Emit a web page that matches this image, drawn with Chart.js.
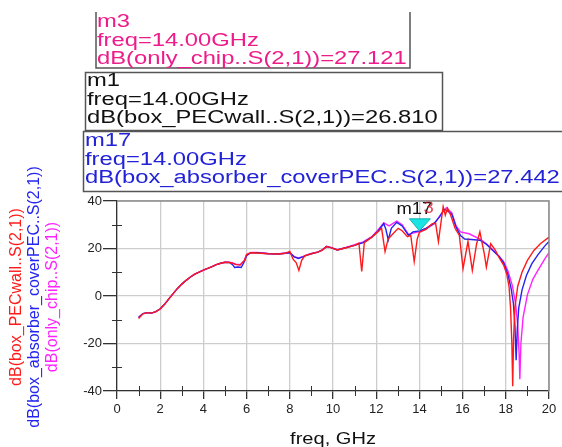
<!DOCTYPE html>
<html>
<head>
<meta charset="utf-8">
<script src="https://cdn.jsdelivr.net/npm/chart.js@4/dist/chart.umd.min.js"></script>
<style>
html,body{margin:0;padding:0;background:#fff;}
canvas{display:block;}
</style>
</head>
<body>
<canvas id="c" width="562" height="447"></canvas>
<script>
// ---- data ----
const freqRed = [1.0,1.2,1.4,1.6,1.8,2.0,2.2,2.4,2.6,2.8,3.0,3.2,3.4,3.6,3.8,4.0,4.2,4.4,4.6,4.8,5.0,5.2,5.35,5.5,5.7,5.9,6.0,6.2,6.5,7.0,7.5,7.8,8.0,8.15,8.3,8.42,8.55,8.7,9.0,9.3,9.5,9.7,9.9,10.2,10.6,11.0,11.2,11.33,11.45,11.8,12.1,12.25,12.41,12.55,12.7,13.02,13.2,13.45,13.6,13.76,13.9,14.0,14.3,14.6,14.75,14.88,15.0,15.1,15.2,15.3,15.45,15.65,15.85,16.02,16.25,16.45,16.65,16.8,17.0,17.1,17.3,17.5,17.7,17.9,18.05,18.15,18.22,18.28,18.32,18.36,18.42,18.55,18.75,19.0,19.3,19.6,20.0];
const dbRed   = [-9.5,-7.5,-7.0,-7.2,-6.6,-5.5,-3.5,-1.2,1.0,3.2,5.0,6.6,8.0,9.2,10.1,10.9,11.6,12.4,13.2,13.8,14.2,14.1,13.8,13.2,13.0,15.0,17.5,18.2,18.1,17.8,17.7,18.0,18.8,15.5,14.0,10.8,15.0,17.0,17.8,18.5,19.3,20.8,20.4,19.4,20.3,21.3,22.3,10.3,22.5,24.8,27.2,28.5,18.7,24.0,25.5,28.5,27.5,25.0,25.5,14.5,24.0,26.81,28.0,30.5,30.6,22.9,31.0,37.6,34.0,37.0,34.0,28.5,25.5,11.5,23.0,10.8,22.0,27.0,18.0,12.2,22.0,19.5,16.0,13.0,9.0,4.0,-5.0,-20.0,-38.0,-18.0,-5.0,4.0,10.0,15.0,19.2,22.0,24.8];

const freqBlue = [1.0,1.2,1.4,1.6,1.8,2.0,2.2,2.4,2.6,2.8,3.0,3.2,3.4,3.6,3.8,4.0,4.2,4.4,4.6,4.8,5.0,5.2,5.35,5.45,5.6,5.75,5.9,6.0,6.2,6.5,7.0,7.5,7.8,8.0,8.2,8.4,8.6,8.8,9.0,9.3,9.5,9.7,9.9,10.2,10.6,11.0,11.4,11.8,12.1,12.35,12.45,12.56,12.7,12.95,13.2,13.5,13.7,14.0,14.3,14.7,14.95,15.15,15.3,15.5,15.7,15.9,16.1,16.4,16.8,17.1,17.4,17.7,17.9,18.1,18.25,18.35,18.42,18.48,18.53,18.6,18.75,18.95,19.2,19.5,19.8,20.0];
const dbBlue   = [-9.0,-7.4,-7.0,-7.2,-6.6,-5.4,-3.5,-1.2,1.0,3.2,5.0,6.6,8.0,9.2,10.1,10.9,11.6,12.4,13.2,13.8,14.2,14.1,13.2,12.0,12.2,12.0,14.5,17.0,18.2,18.2,17.8,17.7,18.0,18.2,16.5,15.8,16.5,17.2,17.8,18.5,19.3,20.8,20.4,19.4,20.3,21.3,22.5,24.8,27.5,30.5,28.0,23.6,28.5,31.0,29.5,25.5,27.0,27.442,28.5,30.8,33.5,36.5,35.8,34.5,29.0,25.5,24.0,23.8,23.5,21.8,19.2,16.5,14.0,9.0,3.0,-3.0,-12.0,-27.0,-14.0,-5.0,2.5,8.5,13.5,17.5,21.0,23.0];

const freqPink = [1.0,1.2,1.4,1.6,1.8,2.0,2.2,2.4,2.6,2.8,3.0,3.2,3.4,3.6,3.8,4.0,4.2,4.4,4.6,4.8,5.0,5.2,5.35,5.5,5.7,5.9,6.0,6.2,6.5,7.0,7.5,7.8,8.0,8.2,8.4,8.6,8.8,9.0,9.3,9.5,9.7,9.9,10.2,10.6,11.0,11.4,11.8,12.1,12.35,12.6,12.95,13.2,13.5,13.7,14.0,14.3,14.7,15.0,15.25,15.5,15.7,15.9,16.3,16.8,17.1,17.4,17.7,17.9,18.1,18.3,18.45,18.55,18.62,18.65,18.7,18.8,19.0,19.25,19.5,19.8,20.0];
const dbPink   = [-9.2,-7.4,-7.0,-7.2,-6.6,-5.5,-3.5,-1.2,1.0,3.2,5.0,6.6,8.0,9.2,10.1,10.9,11.6,12.4,13.2,13.8,14.2,14.2,13.9,13.4,13.2,15.0,17.5,18.3,18.3,17.9,17.8,18.1,18.3,16.6,16.0,16.6,17.3,17.9,18.6,19.4,20.9,20.5,19.5,20.5,21.6,22.8,25.0,28.0,30.8,29.5,31.5,30.0,25.8,26.5,27.121,28.2,30.5,34.5,37.2,35.0,29.5,27.0,26.2,24.0,22.0,19.5,16.5,14.5,10.5,4.5,-3.0,-12.0,-25.0,-35.0,-20.0,-9.0,0.5,7.0,11.0,15.5,18.3];

const xTicks = [0,2,4,6,8,10,12,14,16,18,20];
const yTicks = [-40,-20,0,20,40];
const markerFreq = 14.0;
const markerNames = ['m3','m1','m17'];
const markerTraces = ['only_chip','box_PECwall','box_absorber_coverPEC'];
const markerValues = [27.121, 26.810, 27.442];
const yTitles = ['dB(box_PECwall..S(2,1))','dB(box_absorber_coverPEC..S(2,1))','dB(only_chip..S(2,1))'];
const xTitle = 'freq, GHz';

const FONT = '"Liberation Sans", Arial, sans-serif';
const RED = '#ff1a1a', BLUE = '#2424f0', PINK = '#ff22ff';

function zip(xs, ys){ return xs.map((x,i)=>({x:x, y:ys[i]})); }

function stretchedText(ctx, txt, x, y, size, sx, color){
  ctx.save();
  ctx.font = size + 'px ' + FONT;
  ctx.fillStyle = color;
  ctx.textBaseline = 'alphabetic';
  ctx.translate(x, y);
  ctx.scale(sx, 1);
  ctx.fillText(txt, 0, 0);
  ctx.restore();
}

const decor = {
  id: 'decor',
  afterDatasetsDraw(chart){
    const ctx = chart.ctx, xs = chart.scales.x, ys = chart.scales.y;
    // marker triangle at m17 point
    const px = xs.getPixelForValue(markerFreq), py = ys.getPixelForValue(markerValues[2]);
    ctx.save();
    ctx.beginPath();
    ctx.moveTo(px - 10, py - 12);
    ctx.lineTo(px + 11, py - 12);
    ctx.lineTo(px, py);
    ctx.closePath();
    ctx.fillStyle = '#19e3e3';
    ctx.fill();
    ctx.strokeStyle = '#10b0b0';
    ctx.lineWidth = 1;
    ctx.stroke();
    ctx.restore();
    // overlapping marker labels
    stretchedText(ctx, 'm17', px - 23, py - 17, 16, 1.15, '#111');
    stretchedText(ctx, '3', px + 4, py - 18, 16, 1.15, 'rgba(230,20,40,0.8)');
  },
  afterDraw(chart){
    const ctx = chart.ctx, a = chart.chartArea, xs = chart.scales.x, ys = chart.scales.y;
    ctx.save();
    // plot frame top/right
    ctx.strokeStyle = '#8c8c8c';
    ctx.lineWidth = 1.5;
    ctx.beginPath();
    ctx.moveTo(a.left, a.top); ctx.lineTo(a.right, a.top); ctx.lineTo(a.right, a.bottom);
    ctx.stroke();
    // minor ticks
    ctx.strokeStyle = '#333';
    ctx.lineWidth = 1;
    ctx.beginPath();
    for (let f = 1; f < 20; f += 2){
      const x = Math.round(xs.getPixelForValue(f)) + 0.5;
      ctx.moveTo(x, a.bottom - 5); ctx.lineTo(x, a.bottom + 5);
    }
    for (let v = -30; v <= 30; v += 20){
      const y = Math.round(ys.getPixelForValue(v)) + 0.5;
      ctx.moveTo(a.left - 5, y); ctx.lineTo(a.left + 5, y);
    }
    ctx.stroke();
    ctx.restore();

    // y axis titles (rotated)
    const cols = [RED, BLUE, PINK];
    const xpos = [17, 35, 53];
    ctx.save();
    for (let i = 0; i < 3; i++){
      ctx.save();
      ctx.translate(xpos[i], 297);
      ctx.rotate(-Math.PI/2);
      ctx.font = '16px ' + FONT;
      ctx.fillStyle = cols[i];
      ctx.textAlign = 'center';
      ctx.textBaseline = 'middle';
      ctx.fillText(yTitles[i], 0, 0);
      ctx.restore();
    }
    ctx.restore();

    // x title
    ctx.save();
    ctx.translate(333, 439);
    ctx.scale(1.18, 1);
    ctx.font = '17px ' + FONT;
    ctx.fillStyle = '#111';
    ctx.textAlign = 'center';
    ctx.textBaseline = 'middle';
    ctx.fillText(xTitle, 0, 0);
    ctx.restore();

    // marker readout boxes
    ctx.save();
    ctx.strokeStyle = '#555';
    ctx.lineWidth = 1.5;
    // m3 box (top edge outside)
    ctx.beginPath();
    ctx.moveTo(96, 12); ctx.lineTo(96, 68); ctx.lineTo(410, 68); ctx.lineTo(410, 12);
    ctx.stroke();
    ctx.strokeRect(85.5, 72.5, 357, 58);
    ctx.beginPath();
    ctx.moveTo(600, 131.5); ctx.lineTo(83.5, 131.5); ctx.lineTo(83.5, 191.5); ctx.lineTo(600, 191.5);
    ctx.stroke();
    ctx.restore();

    const boxCols = ['#ee1c8a', '#111111', '#2222d8'];
    const boxX = [97, 87, 85];
    const boxY = [27, 86, 146];
    for (let i = 0; i < 3; i++){
      stretchedText(ctx, markerNames[i], boxX[i], boxY[i], 18, 1.32, boxCols[i]);
      stretchedText(ctx, 'freq=' + markerFreq.toFixed(2) + 'GHz', boxX[i], boxY[i] + 18.5, 18, 1.32, boxCols[i]);
      stretchedText(ctx, 'dB(' + markerTraces[i] + '..S(2,1))=' + markerValues[i].toFixed(3), boxX[i], boxY[i] + 37, 18, 1.32, boxCols[i]);
    }
  }
};

const tickFont = {family: FONT, size: 13};

new Chart(document.getElementById('c'), {
  type: 'line',
  data: {
    datasets: [
      {label: 'box_PECwall', data: zip(freqRed, dbRed), borderColor: RED, borderWidth: 1.4, pointRadius: 0, tension: 0},
      {label: 'box_absorber_coverPEC', data: zip(freqBlue, dbBlue), borderColor: BLUE, borderWidth: 1.4, pointRadius: 0, tension: 0},
      {label: 'only_chip', data: zip(freqPink, dbPink), borderColor: PINK, borderWidth: 1.4, pointRadius: 0, tension: 0}
    ]
  },
  options: {
    responsive: false,
    animation: false,
    devicePixelRatio: 1,
    layout: {padding: {top: 201, right: 13, left: 0, bottom: 0}},
    plugins: {legend: {display: false}, tooltip: {enabled: false}},
    scales: {
      x: {
        type: 'linear', min: 0, max: 20,
        afterBuildTicks: s => { s.ticks = xTicks.map(v => ({value: v})); },
        afterFit: s => { s.height = 56; },
        ticks: {font: tickFont, color: '#222', padding: 3, maxRotation: 0, autoSkip: false},
        grid: {color: '#cdcdcd', lineWidth: 1.3, tickColor: '#333', tickLength: 8},
        border: {color: '#333', width: 1.3}
      },
      y: {
        type: 'linear', min: -40, max: 40,
        afterBuildTicks: s => { s.ticks = yTicks.map(v => ({value: v})); },
        afterFit: s => { s.width = 117; },
        ticks: {font: tickFont, color: '#222', padding: 1, autoSkip: false},
        grid: {color: '#cdcdcd', lineWidth: 1.3, tickColor: '#333', tickLength: 14},
        border: {color: '#333', width: 1.3}
      }
    }
  },
  plugins: [decor]
});
</script>
</body>
</html>
